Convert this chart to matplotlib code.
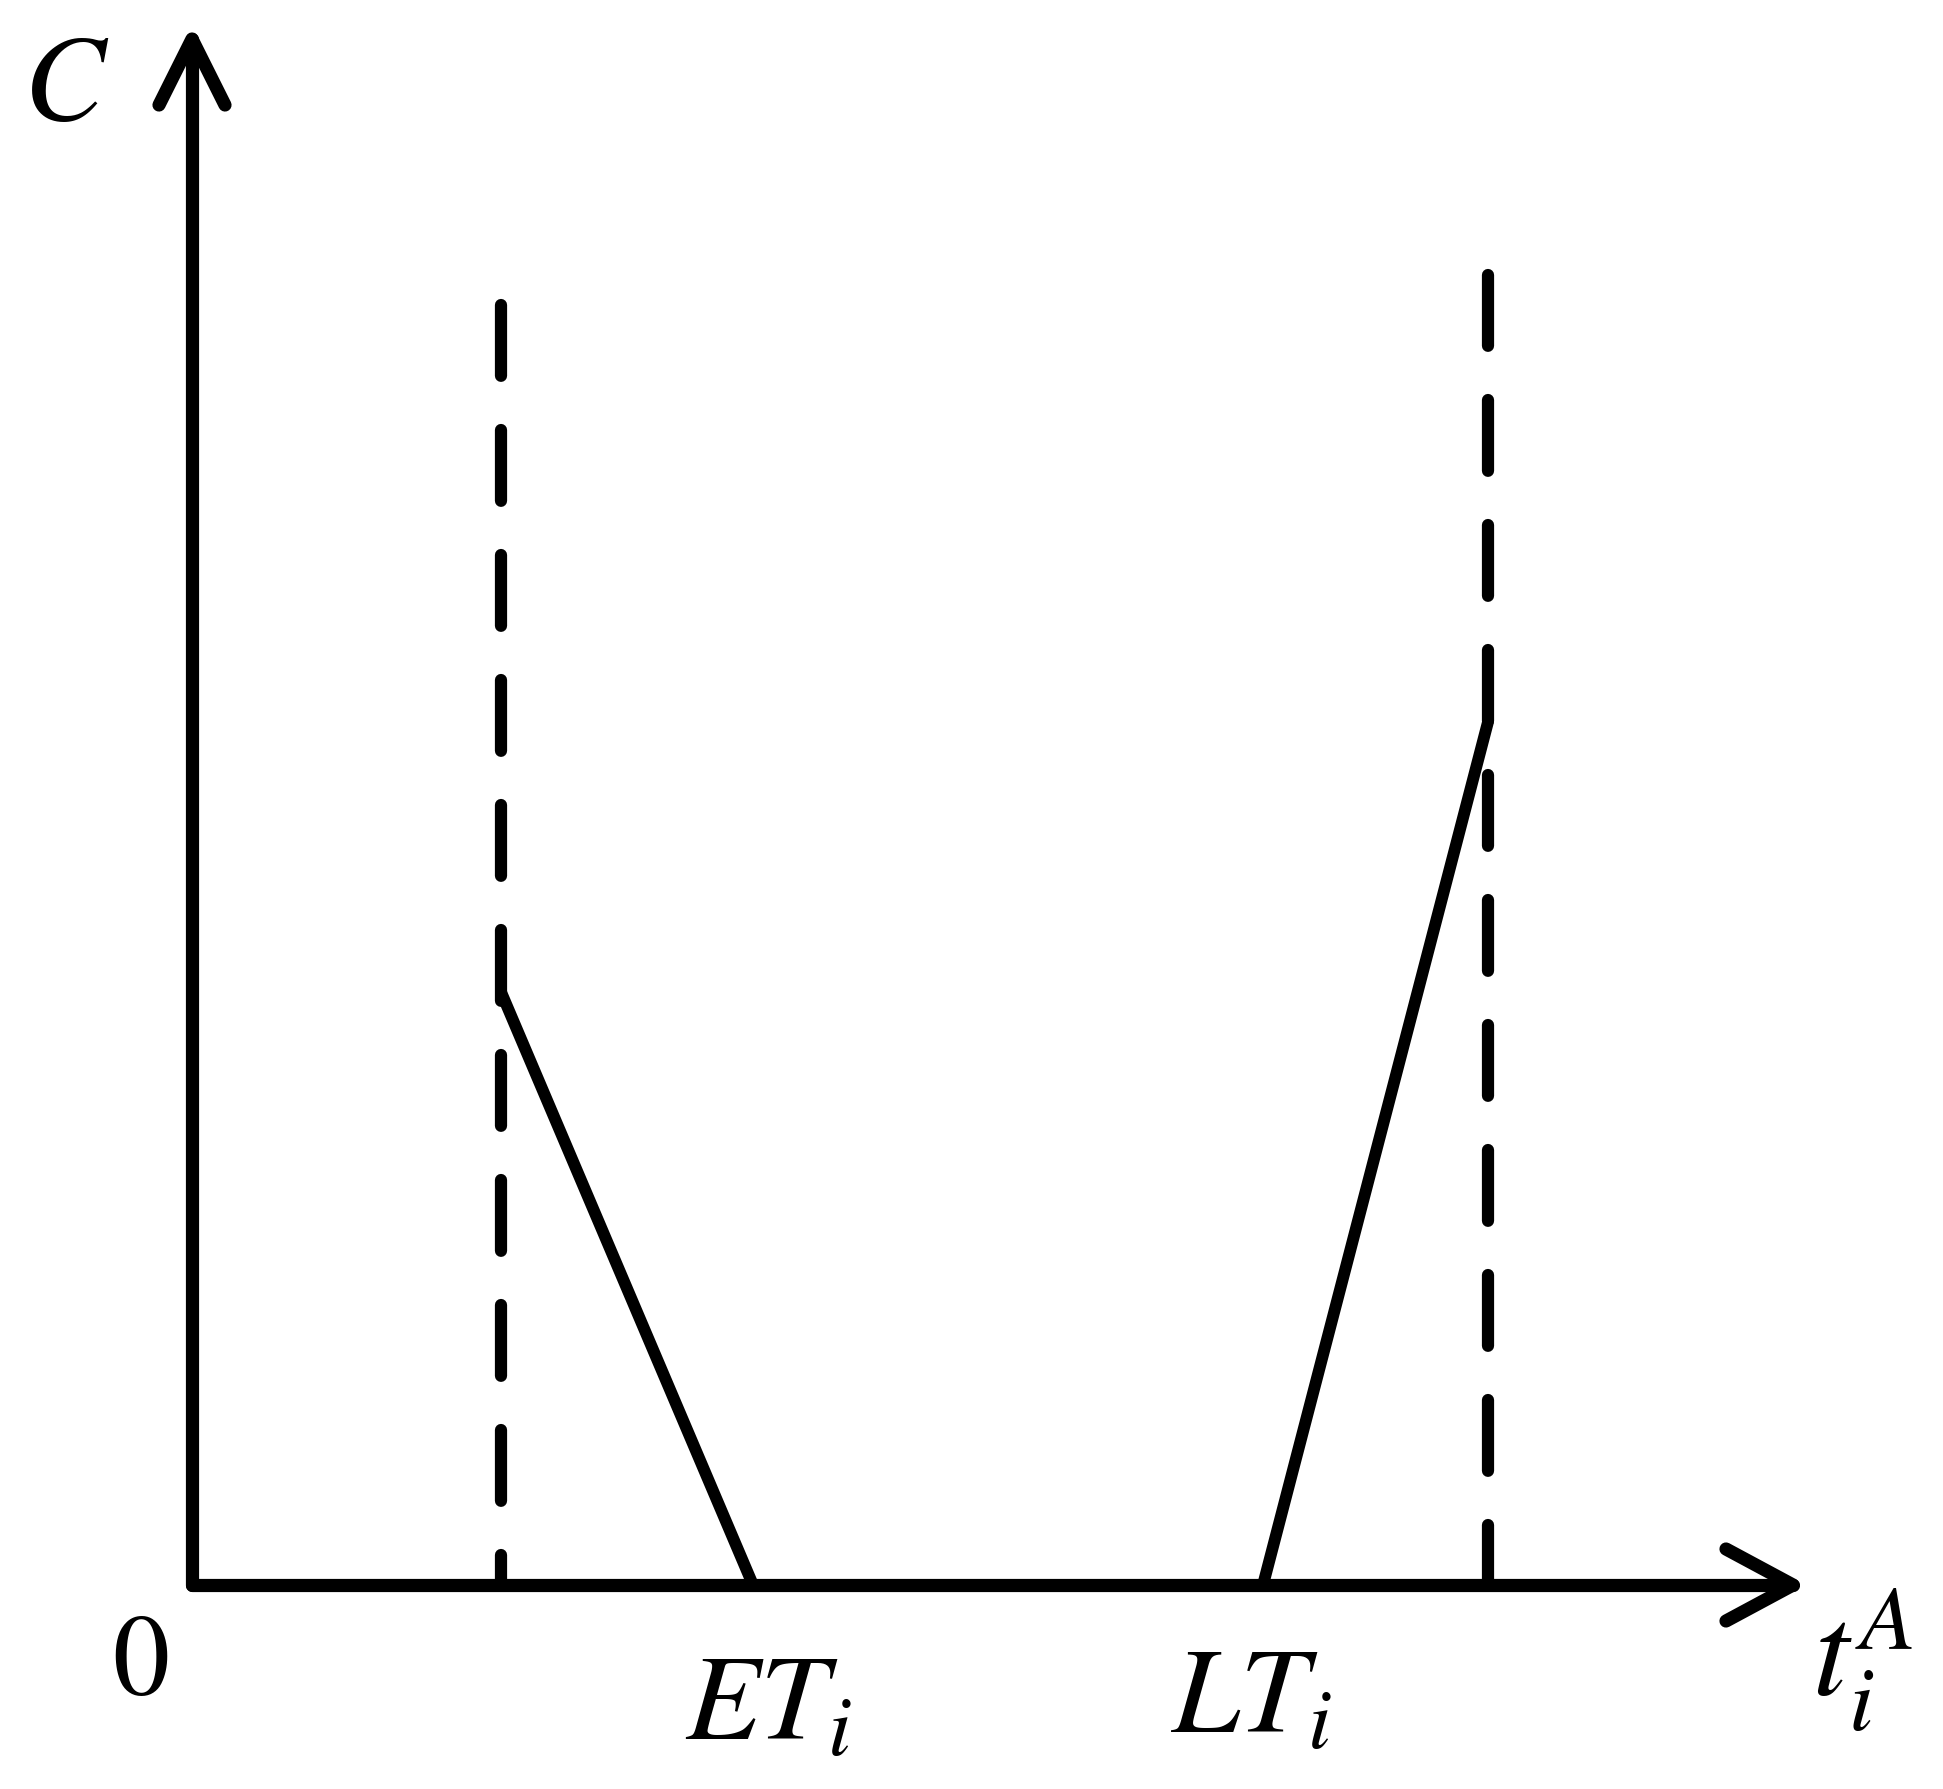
import matplotlib.pyplot as plt

plt.rcParams['mathtext.fontset'] = 'stix'
plt.rcParams['lines.scale_dashes'] = False

# piecewise cost curve (units: image pixels from the origin)
t_points = [309, 561, 1071, 1296]
cost = [593, 0, 0, 863]

# dashed bounds (time, top of dashed line)
bound_t = [309, 1296]
bound_top = [1280, 1310]

fig = plt.figure(figsize=(19.43, 17.90), dpi=100)
ax = fig.add_axes([0, 0, 1, 1])
ax.set_xlim(-192, 1751)
ax.set_ylim(-204, 1586)
ax.axis('off')

lw = 9.5
# axes with open arrowheads
ax.plot([0, 0], [0, 1546], color='black', lw=lw, solid_capstyle='round')
ax.plot([0, 1601], [0, 0], color='black', lw=lw, solid_capstyle='round')
ax.plot([-33, 0, 33], [1480, 1546, 1480], color='black', lw=lw,
        solid_capstyle='round', solid_joinstyle='round')
ax.plot([1534, 1601, 1534], [36, 0, -36], color='black', lw=lw,
        solid_capstyle='round', solid_joinstyle='round')

# dashed bounds
for t, top in zip(bound_t, bound_top):
    ax.plot([t, t], [top, 0], color='black', lw=8.8,
            linestyle=(0, (51, 39)), dash_capstyle='round')

# cost curve
ax.plot(t_points, cost, color='black', lw=8.5, solid_capstyle='round',
        solid_joinstyle='miter')

# labels
fs = 88
ax.text(-169, 1466, r'$C$', fontsize=fs, ha='left', va='baseline')
ax.text(-52, -108, r'$\mathrm{0}$', fontsize=82, ha='center', va='baseline')
ax.text(493, -154, r'$ET_i$', fontsize=fs, ha='left', va='baseline')
ax.text(979, -147, r'$LT_i$', fontsize=fs, ha='left', va='baseline')
ax.text(1620, -111, r'$t_i^A$', fontsize=94, ha='left', va='baseline')

fig.savefig('out.png', dpi=100)
